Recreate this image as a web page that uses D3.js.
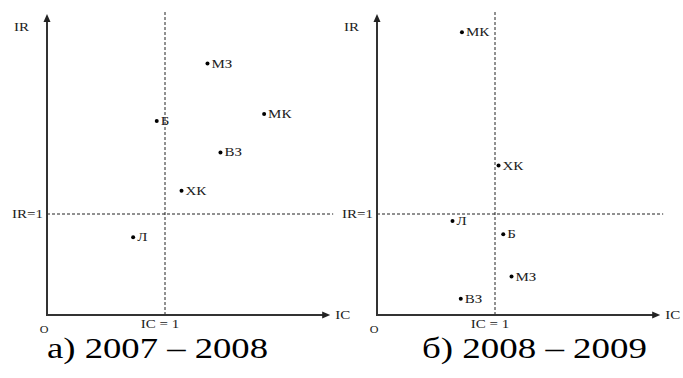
<!DOCTYPE html>
<html>
<head>
<meta charset="utf-8">
<script src="https://cdn.jsdelivr.net/npm/d3@7"></script>
<style>
  body { margin: 0; background: #fff; }
  svg text { font-family: "Liberation Serif", "Times New Roman", Tinos, serif; fill: #222; }
</style>
</head>
<body>
<div id="corpo"></div>
<script>
// firm codes and index values (IC on x, IR on y)
var names_a = ["МЗ", "Б", "МК", "ВЗ", "ХК", "Л"];
var ic_a = [1.36, 0.93, 1.84, 1.47, 1.14, 0.73];
var ir_a = [2.49, 1.92, 1.99, 1.61, 1.23, 0.77];

var names_b = ["МК", "ХК", "Л", "Б", "МЗ", "ВЗ"];
var ic_b = [0.72, 1.03, 0.64, 1.07, 1.14, 0.71];
var ir_b = [2.80, 1.48, 0.93, 0.80, 0.38, 0.16];

var titles = ["а) 2007 – 2008", "б) 2008 – 2009"];

var width = 683, height = 378;

var svg = d3.select("#corpo").append("svg")
    .attr("width", width)
    .attr("height", height);

// same scales for both panels, each panel is shifted
var x = d3.scaleLinear().domain([0, 1]).range([0, 118]);
var y = d3.scaleLinear().domain([0, 1]).range([315, 214]);
var xMax = 2.4, yMax = 2.98;

function label(g, txt, px, py, size, anchor, sx) {
    g.append("text")
        .attr("transform", "translate(" + px + "," + py + ") scale(" + (sx || 1.25) + ",1)")
        .attr("text-anchor", anchor || "start")
        .style("font-size", size + "px")
        .text(txt);
}

function panel(ox, names, ic, ir, title, titleX, titleW) {
    var g = svg.append("g").attr("transform", "translate(" + ox + ",0)");
    var data = names.map(function(n, i) { return {name: n, ic: ic[i], ir: ir[i]}; });

    // dashed reference lines IC = 1, IR = 1
    g.append("line")
        .attr("x1", x(1)).attr("x2", x(1))
        .attr("y1", y(yMax) - 2).attr("y2", y(0))
        .style("stroke", "#222").style("stroke-width", 1)
        .style("stroke-dasharray", "3,2");
    g.append("line")
        .attr("x1", x(0)).attr("x2", x(xMax) + 3)
        .attr("y1", y(1)).attr("y2", y(1))
        .style("stroke", "#222").style("stroke-width", 1)
        .style("stroke-dasharray", "3,2");

    // axes with arrows
    g.append("line")
        .attr("x1", x(0)).attr("x2", x(0))
        .attr("y1", y(0)).attr("y2", y(yMax) + 6)
        .style("stroke", "#333").style("stroke-width", 2);
    g.append("line")
        .attr("x1", x(0) - 1).attr("x2", x(xMax) - 6)
        .attr("y1", y(0)).attr("y2", y(0))
        .style("stroke", "#333").style("stroke-width", 2);
    g.append("path")
        .attr("d", "M" + x(0) + "," + y(yMax) + "l-3.5,8h7z")
        .style("fill", "#222");
    g.append("path")
        .attr("d", "M" + x(xMax) + "," + y(0) + "l-8,-3.5v7z")
        .style("fill", "#222");

    // axis texts
    label(g, "IR", x(0) - 33, 31, 12);
    label(g, "IR=1", x(0) - 4, y(1) + 4, 12, "end");
    label(g, "IC", x(xMax) + 5, y(0) + 4, 12);
    label(g, "IC = 1", x(1) - 5, 328, 12, "middle");
    label(g, "O", x(0) - 3, 333, 11, "middle", 1.1);

    // points
    var pt = g.selectAll(".pt")
        .data(data)
        .enter().append("g")
        .attr("class", "pt");
    pt.append("circle")
        .attr("cx", function(d) { return x(d.ic); })
        .attr("cy", function(d) { return y(d.ir); })
        .attr("r", 2)
        .style("fill", "#000");
    pt.each(function(d) {
        label(d3.select(this), d.name, x(d.ic) + 4, y(d.ir) + 4, 12);
    });

    // caption, stretched like the original
    g.append("text")
        .attr("x", titleX)
        .attr("y", 358)
        .attr("textLength", titleW)
        .attr("lengthAdjust", "spacingAndGlyphs")
        .style("font-size", "30px")
        .style("fill", "#000")
        .text(title);
}

panel(47, names_a, ic_a, ir_a, titles[0], 0, 221);
panel(377, names_b, ic_b, ir_b, titles[1], 45, 225);
</script>
</body>
</html>
